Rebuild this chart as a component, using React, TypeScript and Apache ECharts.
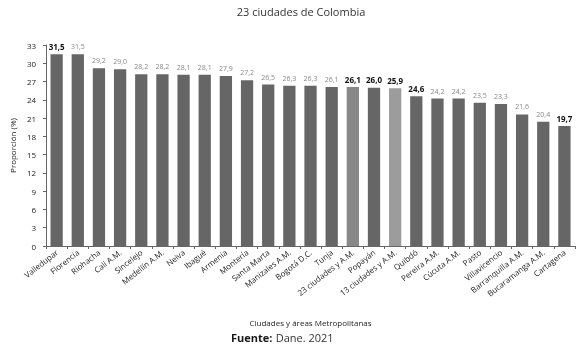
import React, { useEffect, useRef } from "react";
import * as echarts from "echarts";

const categories = [
  "Valledupar", "Florencia", "Riohacha", "Cali A.M.", "Sincelejo", "Medellín A.M.",
  "Neiva", "Ibagué", "Armenia", "Montería", "Santa Marta", "Manizales A.M.",
  "Bogotá D.C.", "Tunja", "23 ciudades y A.M.", "Popayán", "13 ciudades y A.M.",
  "Quibdó", "Pereira A.M.", "Cúcuta A.M.", "Pasto", "Villavicencio",
  "Barranquilla A.M.", "Bucaramanga A.M.", "Cartagena",
];
const values = [
  31.5, 31.5, 29.2, 29.0, 28.2, 28.2, 28.1, 28.1, 27.9, 27.2, 26.5, 26.3,
  26.3, 26.1, 26.1, 26.0, 25.9, 24.6, 24.2, 24.2, 23.5, 23.3, 21.6, 20.4, 19.7,
];
const boldLabels = [
  true, false, false, false, false, false, false, false, false, false, false, false,
  false, false, true, true, true, true, false, false, false, false, false, false, true,
];
const barColors = [
  "#666666", "#666666", "#666666", "#666666", "#666666", "#666666", "#666666", "#666666",
  "#666666", "#666666", "#666666", "#666666", "#666666", "#666666", "#888888", "#666666",
  "#9c9c9c", "#666666", "#666666", "#666666", "#666666", "#666666", "#666666", "#666666",
  "#666666",
];
const yTicks = [0, 3, 6, 9, 12, 15, 18, 21, 24, 27, 30, 33];

const FONT = "'Open Sans', 'Liberation Sans', sans-serif";

export default function App() {
  const ref = useRef<HTMLDivElement>(null);
  useEffect(() => {
    if (!ref.current) return;
    const chart = echarts.init(ref.current, null, { renderer: "svg" });
    chart.setOption({
      animation: false,
      textStyle: { fontFamily: FONT },
      title: {
        text: "23 ciudades de Colombia",
        left: 296,
        top: 1,
        textAlign: "center",
        textStyle: { fontSize: 11, fontWeight: "normal", color: "#333", fontFamily: FONT },
      },
      grid: { left: 40, right: 6, top: 45, bottom: 100, containLabel: false },
      xAxis: {
        type: "category",
        data: categories,
        axisLine: { lineStyle: { color: "#666" } },
        axisTick: { show: true, alignWithLabel: false, lineStyle: { color: "#666" }, length: 3 },
        axisLabel: { rotate: 38, interval: 0, fontSize: 8, color: "#222", margin: 5, fontFamily: FONT },
        name: "Ciudades y áreas Metropolitanas",
        nameLocation: "middle",
        nameGap: 72,
        nameTextStyle: { fontSize: 8, color: "#222", fontFamily: FONT },
      },
      yAxis: {
        type: "value",
        min: 0,
        max: yTicks[yTicks.length - 1],
        interval: 3,
        axisLine: { show: true, lineStyle: { color: "#666" } },
        axisTick: { show: true, length: 3, lineStyle: { color: "#666" } },
        splitLine: { show: false },
        axisLabel: { fontSize: 8, color: "#222", margin: 10, fontFamily: FONT },
        name: "Proporción (%)",
        nameLocation: "middle",
        nameGap: 26,
        nameTextStyle: { fontSize: 8, color: "#222", fontFamily: FONT },
      },
      series: [
        {
          type: "bar",
          barWidth: "58%",
          data: values.map((v, i) => ({
            value: v,
            itemStyle: { color: barColors[i] },
            label: {
              show: true,
              position: "top",
              distance: 4,
              formatter: v.toFixed(1).replace(".", ","),
              fontSize: boldLabels[i] ? 8 : 7,
              fontWeight: boldLabels[i] ? "bold" : "normal",
              color: boldLabels[i] ? "#111" : "#888",
              fontFamily: FONT,
            },
          })),
        },
      ],
      graphic: [
        {
          type: "text",
          left: 231,
          top: 331,
          style: {
            rich: {
              b: { fontWeight: "bold", fontSize: 11, fill: "#1a1a1a", fontFamily: FONT },
              n: { fontSize: 11, fill: "#333", fontFamily: FONT },
            },
            text: "{b|Fuente:} {n|Dane. 2021}",
          },
        },
      ],
    });
    return () => chart.dispose();
  }, []);
  return (
    <div
      ref={ref}
      style={{ position: "fixed", left: 0, top: 0, width: 581, height: 346 }}
    />
  );
}
